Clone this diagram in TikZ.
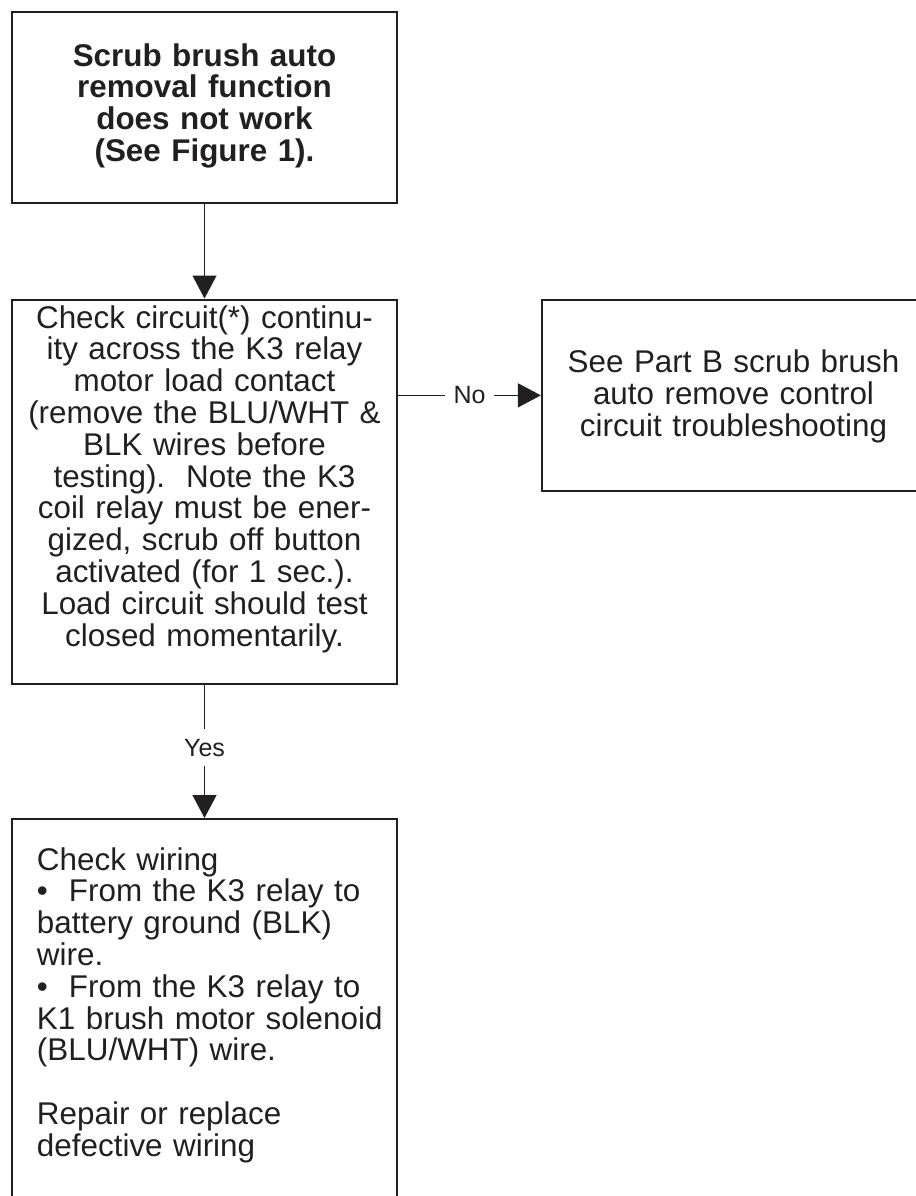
\documentclass[tikz,border=0pt]{standalone}
\usepackage{fontspec}
\setmainfont{Liberation Sans}
\usetikzlibrary{arrows.meta}
\definecolor{ink}{HTML}{231F20}

\begin{document}
\begin{tikzpicture}[x=0.5pt,y=-0.5pt,->,>={Triangle[length=11.5pt,width=12pt]},color=ink,line width=0.6pt]
	\def \leftcol{204.5}
	\def \rightcol{733.5}
	\def \rowone{10.7}
	\def \rowtwo{298.5}
	\def \rowthree{818}
	\tikzstyle{box}=[draw,line width=1.1pt,anchor=north,inner ysep=0pt,font=\fontsize{15.7}{15.9}\selectfont]
	\tikzstyle{c-box}=[box,align=center,inner xsep=2pt,text width=188.5pt]
	\tikzstyle{l-box}=[box,align=left,inner xsep=12.5pt,text width=167.5pt]
	\tikzstyle{lbl}=[fill=white,inner xsep=4.5pt,inner ysep=5pt,font=\fontsize{12.5}{14}\selectfont]
	\useasboundingbox (0,0) rectangle (916,1196);

	% problem
	\node[c-box,font=\fontsize{15.7}{15.9}\selectfont\bfseries,text height=27.15pt,text depth=68.5pt] (problem) at (\leftcol,\rowone)
		{Scrub brush auto\\removal function\\does not work\\(See Figure 1).};

	% test
	\node[c-box,text height=14.25pt,text depth=178pt] (check) at (\leftcol,\rowtwo)
		{Check circuit(*) continu-\\ity across the K3 relay\\motor load contact\\(remove the BLU/WHT \&\\BLK wires before\\testing).\ \ Note the K3\\coil relay must be ener-\\gized, scrub off button\\activated (for 1 sec.).\\Load circuit should test\\closed momentarily.};

	% no
	\node[c-box,text width=187.5pt,text height=36.6pt,text depth=59.15pt] (partb) at (\rightcol,\rowtwo)
		{See Part B scrub brush\\auto remove control\\circuit troubleshooting};

	% yes
	\node[l-box,text height=25.5pt,text depth=170.5pt] (wiring) at (\leftcol,\rowthree)
		{Check wiring\\
		•\ \ From the K3 relay to\\
		battery ground (BLK)\\
		wire.\\
		•\ \ From the K3 relay to\\
		\mbox{K1 brush motor solenoid}\\
		(BLU/WHT) wire.\\[15.9pt]
		Repair or replace\\
		defective wiring};

	\path
		(problem)	edge	(check)
		(check.east |- partb.west)	edge	node[lbl]	{No}	(partb)
		(check)	edge	node[lbl,pos=0.47]	{Yes}	(wiring);
\end{tikzpicture}
\end{document}
